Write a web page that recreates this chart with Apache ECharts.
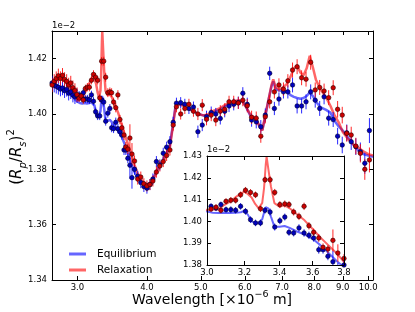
<!DOCTYPE html>
<html><head><meta charset="utf-8">
<script src="https://cdn.jsdelivr.net/npm/echarts@6/dist/echarts.min.js"></script>
<style>html,body{margin:0;padding:0;background:#fff}#c{width:415px;height:312px}</style>
</head><body><div id="c"></div>
<script>
// Observation wavelengths (micron) and simulated transit depths (x1e-2)
const obsWl = [2.701,2.725,2.748,2.772,2.796,2.820,2.844,2.869,2.893,2.918,2.944,2.969,2.995,
 3.021,3.047,3.073,3.100,3.126,3.152,3.179,3.206,3.234,3.262,3.290,3.316,3.345,3.372,3.402,3.431,3.456,3.484,3.516,3.547,3.577,3.606,3.638,3.665,3.696,3.728,
 3.76,3.80,3.85,3.90,3.95,4.00,4.05,4.10,4.16,4.22,4.28,4.34,4.40,4.46,4.52,
 4.60,4.68,4.76,4.85,4.94,5.03,5.12,5.22,5.32,5.42,5.52,5.62,5.73,5.84,5.95,6.06,6.17,6.29,6.41,6.53,6.65,6.78,6.91,7.04,7.17,7.31,7.45,7.59,7.73,7.88,8.03,8.18,8.33,8.49,8.65,8.81,8.98,9.15,9.32,9.50,9.68,9.86,10.05];
const relaxObs = [1.4105,1.4118,1.4128,1.4138,1.4128,1.4140,1.4125,1.4118,1.4105,1.4112,1.4095,1.4085,1.4070,
 1.4057,1.4065,1.4051,1.4092,1.4097,1.4097,1.4122,1.4143,1.4133,1.4122,1.4058,1.4191,1.4191,1.4133,1.4077,1.4080,1.4077,1.4043,1.4023,1.4069,1.3980,1.3950,1.3924,1.3881,1.3873,1.3913,
 1.3855,1.3830,1.3765,1.3772,1.3748,1.3740,1.3745,1.3758,1.3790,1.3812,1.3828,1.3850,1.3870,1.3960,1.4026,
 1.4000,1.4020,1.4035,1.4010,1.4000,1.4032,1.3981,1.3996,1.3978,1.4010,1.4017,1.4044,1.4044,1.4040,1.4050,1.4030,1.3988,1.3985,1.3920,1.3990,1.4044,1.4080,1.4105,1.4090,1.4120,1.4159,1.4171,1.4131,1.4126,1.4187,1.4087,1.4096,1.4083,1.4059,1.4095,1.4017,1.3996,1.3930,1.3924,1.3884,1.3858,1.3800,1.3834];
const equilObs = [1.4112,1.4104,1.4100,1.4096,1.4090,1.4094,1.4084,1.4089,1.4075,1.4080,1.4068,1.4062,1.4066,
 1.4069,1.4061,1.4077,1.4054,1.4054,1.4051,1.4069,1.4046,1.4008,1.3993,1.3993,1.4051,1.4043,1.3974,1.4003,1.4020,1.3950,1.3947,1.3970,1.3947,1.3936,1.3924,1.3870,1.3870,1.3840,1.3815,
 1.3770,1.3800,1.3775,1.3752,1.3738,1.3732,1.3745,1.3765,1.3828,1.3816,1.3858,1.3880,1.3900,1.3970,1.4039,
 1.4041,1.4035,1.4020,1.4025,1.3936,1.3960,1.3990,1.4005,1.4000,1.3984,1.4010,1.4029,1.4035,1.4041,1.4075,1.4035,1.3978,1.3972,1.3954,1.3996,1.4147,1.4020,1.4054,1.4080,1.4080,1.4105,1.4029,1.4029,1.4044,1.4080,1.4050,1.4020,1.4062,1.3985,1.3980,1.3920,1.3888,1.3932,1.3900,1.3882,1.3864,1.3822,1.3940];
const obsErr = [0.0026,0.0026,0.0026,0.0026,0.0026,0.0026,0.0026,0.0026,0.0026,0.0026,0.0026,0.0026,0.0026,
 0.0014,0.0014,0.0014,0.0014,0.0015,0.0015,0.0015,0.0015,0.0015,0.0015,0.0015,0.0015,0.0016,0.0016,0.0016,0.0016,0.0016,0.0016,0.0017,0.0017,0.0017,0.0017,0.0018,0.0018,0.0018,0.0050,
 0.0040,0.0020,0.0020,0.0020,0.0020,0.0020,0.0020,0.0020,0.0020,0.0020,0.0020,0.0020,0.0020,0.0020,0.0020,
 0.0020,0.0020,0.0020,0.0020,0.0022,0.0022,0.0022,0.0022,0.0022,0.0022,0.0022,0.0022,0.0022,0.0022,0.0022,
 0.0024,0.0024,0.0024,0.0024,0.0024,0.0024,0.0024,0.0024,0.0024,0.0024,
 0.0027,0.0027,0.0027,0.0027,0.0027,0.0027,0.0027,0.0027,0.0027,0.0027,
 0.0030,0.0030,0.0030,0.0030,0.0030,0.0033,0.0038,0.0045];

// Model spectra
const modelWl = [2.70,2.73,2.76,2.79,2.82,2.85,2.88,2.91,2.94,2.97,
 3.00,3.03,3.06,3.09,3.12,3.15,3.18,3.20,3.22,3.24,
 3.26,3.28,3.30,3.31,3.32,3.325,3.335,3.35,3.37,3.40,
 3.43,3.46,3.50,3.55,3.60,3.65,3.70,3.75,3.80,3.85,
 3.90,3.95,4.00,4.05,4.10,4.15,4.20,4.25,4.30,4.35,
 4.40,4.45,4.50,4.55,4.65,4.75,4.85,4.95,5.05,5.15,
 5.25,5.40,5.55,5.70,5.85,5.95,6.05,6.15,6.28,6.38,
 6.45,6.52,6.60,6.70,6.75,6.82,6.92,7.02,7.15,7.25,
 7.35,7.45,7.55,7.65,7.75,7.85,7.95,8.05,8.20,8.40,
 8.55,8.70,8.85,9.00,9.20,9.40,9.60,9.80,10.0,10.2];
const relaxModel = [1.4115,1.4110,1.4125,1.4135,1.4130,1.4120,1.4105,1.4095,1.4080,1.4065,
 1.4052,1.4055,1.4055,1.4075,1.4090,1.4110,1.4128,1.4136,1.4125,1.4110,
 1.4080,1.4060,1.4085,1.4150,1.4260,1.4297,1.4240,1.4160,1.4084,1.4067,
 1.4075,1.4060,1.4035,1.4005,1.3965,1.3925,1.3890,1.3855,1.3815,1.3785,
 1.3765,1.3752,1.3745,1.3748,1.3760,1.3785,1.3805,1.3820,1.3835,1.3855,
 1.3880,1.3950,1.4020,1.4035,1.4030,1.4020,1.4010,1.4000,1.3995,1.3998,
 1.4010,1.4020,1.4035,1.4045,1.4050,1.4045,1.4020,1.3995,1.3985,1.3955,
 1.3940,1.3990,1.4040,1.4105,1.4125,1.4095,1.4090,1.4095,1.4110,1.4135,
 1.4165,1.4175,1.4150,1.4140,1.4165,1.4210,1.4170,1.4125,1.4090,1.4060,
 1.4030,1.3995,1.3970,1.3935,1.3910,1.3890,1.3878,1.3865,1.3855,1.3850];
const equilModel = [1.4115,1.4105,1.4098,1.4100,1.4092,1.4088,1.4082,1.4075,1.4070,1.4052,
 1.4045,1.4040,1.4038,1.4040,1.4038,1.4040,1.4042,1.4049,1.4030,1.3999,
 1.3995,1.3993,1.4010,1.4040,1.4065,1.4071,1.4060,1.4022,1.3976,1.3975,
 1.3979,1.3970,1.3955,1.3940,1.3920,1.3890,1.3855,1.3820,1.3790,1.3770,
 1.3755,1.3745,1.3740,1.3745,1.3762,1.3790,1.3810,1.3825,1.3845,1.3865,
 1.3890,1.3955,1.4025,1.4038,1.4032,1.4020,1.4010,1.4000,1.3995,1.3996,
 1.4005,1.4015,1.4030,1.4040,1.4048,1.4045,1.4020,1.3990,1.3982,1.3955,
 1.3942,1.3985,1.4040,1.4100,1.4118,1.4090,1.4085,1.4085,1.4080,1.4068,
 1.4062,1.4058,1.4055,1.4058,1.4065,1.4078,1.4065,1.4045,1.4025,1.4015,
 1.4005,1.3975,1.3955,1.3940,1.3915,1.3890,1.3868,1.3855,1.3850,1.3845];

const xTicks = [3, 4, 5, 6, 7, 8, 9, 10];
const insetXTicks = [3.0, 3.2, 3.4, 3.6, 3.8];

const FONT = 'DejaVu Sans';
const RED_LINE = 'rgba(255,0,0,0.6)', BLUE_LINE = 'rgba(0,0,255,0.6)';
const RED_ERR = 'rgba(255,0,0,0.85)', BLUE_ERR = 'rgba(0,0,255,0.85)';

const pairs = (xs, ys) => xs.map((x, i) => [x, ys[i]]);
const triples = (xs, ys, es) => xs.map((x, i) => [x, ys[i], es[i]]);

function errSeries(idx, vals, color, z) {
  return {
    type: 'custom', xAxisIndex: idx, yAxisIndex: idx, z: z, clip: true, silent: true,
    data: triples(obsWl, vals, obsErr), encode: {x: 0, y: 1},
    renderItem: (p, api) => {
      const x = api.value(0), y = api.value(1), e = api.value(2);
      const a = api.coord([x, y - e]), b = api.coord([x, y + e]);
      return {type: 'line', shape: {x1: a[0], y1: a[1], x2: b[0], y2: b[1]},
              style: {stroke: color, lineWidth: 1}};
    }
  };
}
function modelSeries(idx, name, vals, color, w, z) {
  return {type: 'line', name: name, xAxisIndex: idx, yAxisIndex: idx, z: z, clip: true,
    data: pairs(modelWl, vals), showSymbol: false, symbol: 'none', silent: true,
    color: color, lineStyle: {color: color, width: w}};
}
function ptSeries(idx, vals, fill, edge, size, z) {
  return {type: 'scatter', xAxisIndex: idx, yAxisIndex: idx, z: z, clip: true, silent: true,
    data: pairs(obsWl, vals), symbol: 'circle', symbolSize: size,
    itemStyle: {color: fill, borderColor: edge, borderWidth: 0.6, opacity: 1}};
}
function xAx(grid, min, max, ticks, show, pos, z) {
  return {type: 'log', logBase: 10, gridIndex: grid, min: min, max: max, position: pos, z: z,
    axisLine: {show: true, onZero: false, lineStyle: {color: '#000', width: 1}},
    axisTick: {show: true, inside: true, length: 4, customValues: ticks, lineStyle: {color: '#000'}},
    axisLabel: {show: show, customValues: ticks, formatter: v => Number(v).toFixed(1),
      color: '#000', fontFamily: FONT, fontSize: 8.5, margin: 3},
    splitLine: {show: false}, minorTick: {show: false}};
}
function yAx(grid, min, max, step, show, pos, z, showMax) {
  return {type: 'value', gridIndex: grid, min: min, max: max, interval: step, position: pos, z: z,
    axisLine: {show: true, onZero: false, lineStyle: {color: '#000', width: 1}},
    axisTick: {show: true, inside: true, length: 4, lineStyle: {color: '#000'}},
    axisLabel: {show: show, showMaxLabel: showMax, formatter: v => v.toFixed(2), color: '#000', fontFamily: FONT, fontSize: 8.5, margin: 5},
    splitLine: {show: false}};
}

const chart = echarts.init(document.getElementById('c'), null, {renderer: 'canvas'});
chart.setOption({
  animation: false,
  backgroundColor: '#fff',
  grid: [
    {left: 52, top: 31, width: 321, height: 249, containLabel: false, outerBoundsMode: 'none'},
    {left: 207, top: 156, width: 137, height: 109, containLabel: false, outerBoundsMode: 'none'}
  ],
  xAxis: [
    xAx(0, 2.7, 10.2, xTicks, true, 'bottom', 1),
    xAx(0, 2.7, 10.2, xTicks, false, 'top', 1),
    xAx(1, 3.0, 3.8, insetXTicks, true, 'bottom', 12),
    xAx(1, 3.0, 3.8, insetXTicks, false, 'top', 12)
  ],
  yAxis: [
    yAx(0, 1.34, 1.43, 0.02, true, 'left', 1, false),
    yAx(0, 1.34, 1.43, 0.02, false, 'right', 1, false),
    yAx(1, 1.38, 1.43, 0.01, true, 'left', 12, true),
    yAx(1, 1.38, 1.43, 0.01, false, 'right', 12, true)
  ],
  legend: {
    orient: 'vertical', left: 64, top: 241, itemWidth: 17, itemHeight: 3, itemGap: 0,
    icon: 'rect', selectedMode: false,
    textStyle: {fontFamily: FONT, fontSize: 10.5, color: '#000', lineHeight: 16, padding: [0, 0, 0, 6]},
    data: [
      {name: 'Equilibrium', itemStyle: {color: BLUE_LINE}},
      {name: 'Relaxation', itemStyle: {color: RED_LINE}}
    ]
  },
  graphic: [
    {type: 'rect', shape: {x: 207, y: 156, width: 137, height: 109}, style: {fill: '#fff'}, z: 6, silent: true},
    {type: 'text', x: 52, y: 26, z: 20, style: {text: '1e\u22122', fontFamily: FONT, fontSize: 8.5, fill: '#000', align: 'left', verticalAlign: 'middle'}},
    {type: 'text', x: 207, y: 150, z: 20, style: {text: '1e\u22122', fontFamily: FONT, fontSize: 8.5, fill: '#000', align: 'left', verticalAlign: 'middle'}},
    {type: 'text', x: 212, y: 300, z: 20, style: {
      text: '{t|Wavelength [\u00d710}{s|\u22126}{t| m]}', align: 'center', verticalAlign: 'middle',
      rich: {t: {fontFamily: FONT, fontSize: 14, fill: '#000', lineHeight: 20, verticalAlign: 'middle'},
             s: {fontFamily: FONT, fontSize: 9.5, fill: '#000', lineHeight: 12, verticalAlign: 'top'}}}},
    {type: 'text', x: 17, y: 157, rotation: Math.PI / 2, z: 20, style: {
      text: '{p|(}{i|R}{b|p}{p|/}{i|R}{b|s}{p|)}{u|2}', align: 'center', verticalAlign: 'middle',
      rich: {p: {fontFamily: FONT, fontSize: 15, fill: '#000', lineHeight: 22, verticalAlign: 'middle'},
             i: {fontFamily: FONT, fontSize: 15, fontStyle: 'italic', fill: '#000', lineHeight: 22, verticalAlign: 'middle'},
             b: {fontFamily: FONT, fontSize: 10, fontStyle: 'italic', fill: '#000', lineHeight: 10, verticalAlign: 'bottom'},
             u: {fontFamily: FONT, fontSize: 10, fill: '#000', lineHeight: 10, verticalAlign: 'top'}}}}
  ],
  series: [
    modelSeries(0, 'Equilibrium', equilModel, BLUE_LINE, 2.5, 2),
    modelSeries(0, 'Relaxation', relaxModel, RED_LINE, 2.5, 2),
    errSeries(0, equilObs, BLUE_ERR, 3),
    errSeries(0, relaxObs, RED_ERR, 3),
    ptSeries(0, equilObs, '#0000bb', '#000033', 4.5, 4),
    ptSeries(0, relaxObs, '#cc0000', '#330000', 4.5, 4),
    modelSeries(2, 'Equilibrium', equilModel, BLUE_LINE, 2, 8),
    modelSeries(2, 'Relaxation', relaxModel, RED_LINE, 2, 8),
    errSeries(2, equilObs, BLUE_ERR, 9),
    errSeries(2, relaxObs, RED_ERR, 9),
    ptSeries(2, equilObs, '#0000bb', '#000033', 4.5, 10),
    ptSeries(2, relaxObs, '#cc0000', '#330000', 4.5, 10)
  ]
});
</script></body></html>
